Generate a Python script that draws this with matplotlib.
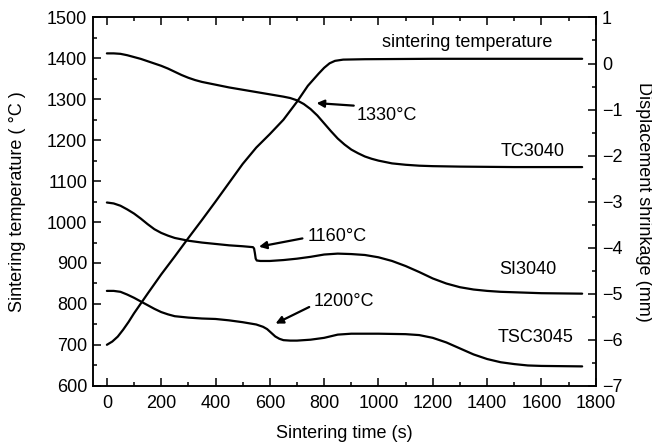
import matplotlib
matplotlib.use("Agg")
import matplotlib.pyplot as plt
from matplotlib.ticker import MultipleLocator

plt.rcParams['font.family'] = ['Liberation Sans', 'DejaVu Sans']

# ---- data ----
temp_time = [0, 20, 40, 60, 80, 100, 150, 200, 250, 300, 350, 400, 450, 500, 550, 600, 650,
             700, 740, 780, 800, 820, 840, 870, 950, 1200, 1500, 1750]
temp_vals = [700, 708, 720, 737, 756, 777, 825, 872, 916, 961, 1005, 1050, 1096, 1142, 1182, 1215,
             1250, 1294, 1333, 1363, 1377, 1388, 1394, 1397, 1398, 1399, 1399, 1399]

tc_time = [0, 25, 50, 75, 100, 125, 150, 175, 200, 225, 250, 275, 300, 325, 350, 400, 450, 500, 550,
           600, 650, 675, 700, 725, 750, 775, 800, 825, 850, 875, 900, 925, 950, 975, 1000, 1050, 1100,
           1150, 1200, 1300, 1500, 1750]
tc_vals = [0.22, 0.22, 0.21, 0.18, 0.14, 0.10, 0.05, 0.00, -0.05, -0.11, -0.18, -0.25, -0.31, -0.36,
           -0.40, -0.46, -0.52, -0.57, -0.62, -0.67, -0.72, -0.75, -0.80, -0.88, -0.99, -1.13, -1.30,
           -1.47, -1.63, -1.76, -1.87, -1.95, -2.02, -2.07, -2.11, -2.17, -2.20, -2.22, -2.23, -2.24,
           -2.25, -2.25]

si_time = [0, 25, 50, 75, 100, 125, 150, 175, 200, 225, 250, 300, 350, 400, 450, 500, 538, 542, 545,
           548, 552, 565, 600, 650, 700, 750, 800, 850, 900, 950, 1000, 1050, 1100, 1150, 1200, 1250,
           1300, 1350, 1400, 1450, 1500, 1600, 1750]
si_vals = [-3.02, -3.04, -3.09, -3.17, -3.26, -3.37, -3.49, -3.60, -3.68, -3.74, -3.79, -3.85, -3.89,
           -3.92, -3.95, -3.97, -3.99, -4.02, -4.12, -4.24, -4.28, -4.29, -4.29, -4.27, -4.24, -4.20,
           -4.15, -4.13, -4.14, -4.16, -4.21, -4.29, -4.40, -4.53, -4.67, -4.78, -4.86, -4.91, -4.94,
           -4.96, -4.97, -4.99, -5.00]

tsc_time = [0, 25, 50, 75, 100, 125, 150, 175, 200, 225, 250, 300, 350, 400, 450, 500, 550, 575, 590,
            605, 620, 635, 650, 675, 700, 750, 800, 850, 900, 1000, 1100, 1150, 1200, 1250, 1300, 1350,
            1400, 1450, 1500, 1550, 1600, 1750]
tsc_vals = [-4.94, -4.94, -4.96, -5.02, -5.09, -5.17, -5.25, -5.33, -5.40, -5.45, -5.49, -5.52, -5.54,
            -5.55, -5.58, -5.62, -5.67, -5.72, -5.77, -5.85, -5.93, -5.98, -6.01, -6.02, -6.02, -6.00,
            -5.96, -5.89, -5.87, -5.87, -5.88, -5.90, -5.96, -6.06, -6.19, -6.32, -6.42, -6.49, -6.53,
            -6.56, -6.57, -6.58]

series_names = ["TC3040", "SI3040", "TSC3045"]
annot_texts = ["1330°C", "1160°C", "1200°C"]

# ---- figure ----
fig = plt.figure(figsize=(6.52, 4.47), dpi=100)
ax = fig.add_axes([0.1431, 0.1371, 0.7706, 0.8238])
ax2 = ax.twinx()

lw = 1.6
kw = dict(color='k', lw=lw, solid_joinstyle='round', solid_capstyle='round')
ax.plot(temp_time, temp_vals, **kw)
ax2.plot(tc_time, tc_vals, **kw)
ax2.plot(si_time, si_vals, **kw)
ax2.plot(tsc_time, tsc_vals, **kw)

ax.set_xlim(-50, 1800)
ax.set_ylim(600, 1500)
ax2.set_ylim(-7, 1)

ax.xaxis.set_major_locator(MultipleLocator(200))
ax.xaxis.set_minor_locator(MultipleLocator(100))
ax.yaxis.set_major_locator(MultipleLocator(100))
ax.yaxis.set_minor_locator(MultipleLocator(50))
ax2.yaxis.set_major_locator(MultipleLocator(1))
ax2.yaxis.set_minor_locator(MultipleLocator(0.5))

fs = 13
ax.tick_params(axis='x', which='both', direction='in', top=True, bottom=True, labelsize=fs, pad=7)
ax.tick_params(axis='y', which='both', direction='in', left=True, right=False, labelsize=fs, pad=4.5)
ax2.tick_params(axis='y', which='both', direction='in', right=True, left=False, labelsize=fs, pad=4.5)
for a in (ax, ax2):
    a.tick_params(which='major', length=5.5, width=1.1)
    a.tick_params(which='minor', length=3, width=1.1)
    for s in a.spines.values():
        s.set_linewidth(1.1)

ax.set_xlabel("Sintering time (s)", fontsize=fs, labelpad=9)
ax.set_ylabel("Sintering temperature ( °C )", fontsize=fs, labelpad=15)
ax2.set_ylabel("Displacement shrinkage (mm)", fontsize=fs, rotation=270, labelpad=9, va='bottom')

# curve labels
ax.text(1326, 1438, "sintering temperature", fontsize=fs, ha='center', va='center')
ax2.text(1569, -1.91, series_names[0], fontsize=fs, ha='center', va='center')
ax2.text(1551, -4.48, series_names[1], fontsize=fs, ha='center', va='center')
ax2.text(1577, -5.96, series_names[2], fontsize=fs, ha='center', va='center')

ap = dict(arrowstyle='-|>', color='k', lw=1.6, mutation_scale=11, shrinkA=0, shrinkB=0)
ax2.annotate("", xy=(772, -0.86), xytext=(909, -0.915), arrowprops=ap)
ax2.text(920, -1.12, annot_texts[0], fontsize=fs, ha='left', va='center')
ax2.annotate("", xy=(560, -3.98), xytext=(720, -3.80), arrowprops=ap)
ax2.text(739, -3.76, annot_texts[1], fontsize=fs, ha='left', va='center')
ax2.annotate("", xy=(621, -5.65), xytext=(745, -5.29), arrowprops=ap)
ax2.text(763, -5.17, annot_texts[2], fontsize=fs, ha='left', va='center')

fig.savefig("out.png", dpi=100)
